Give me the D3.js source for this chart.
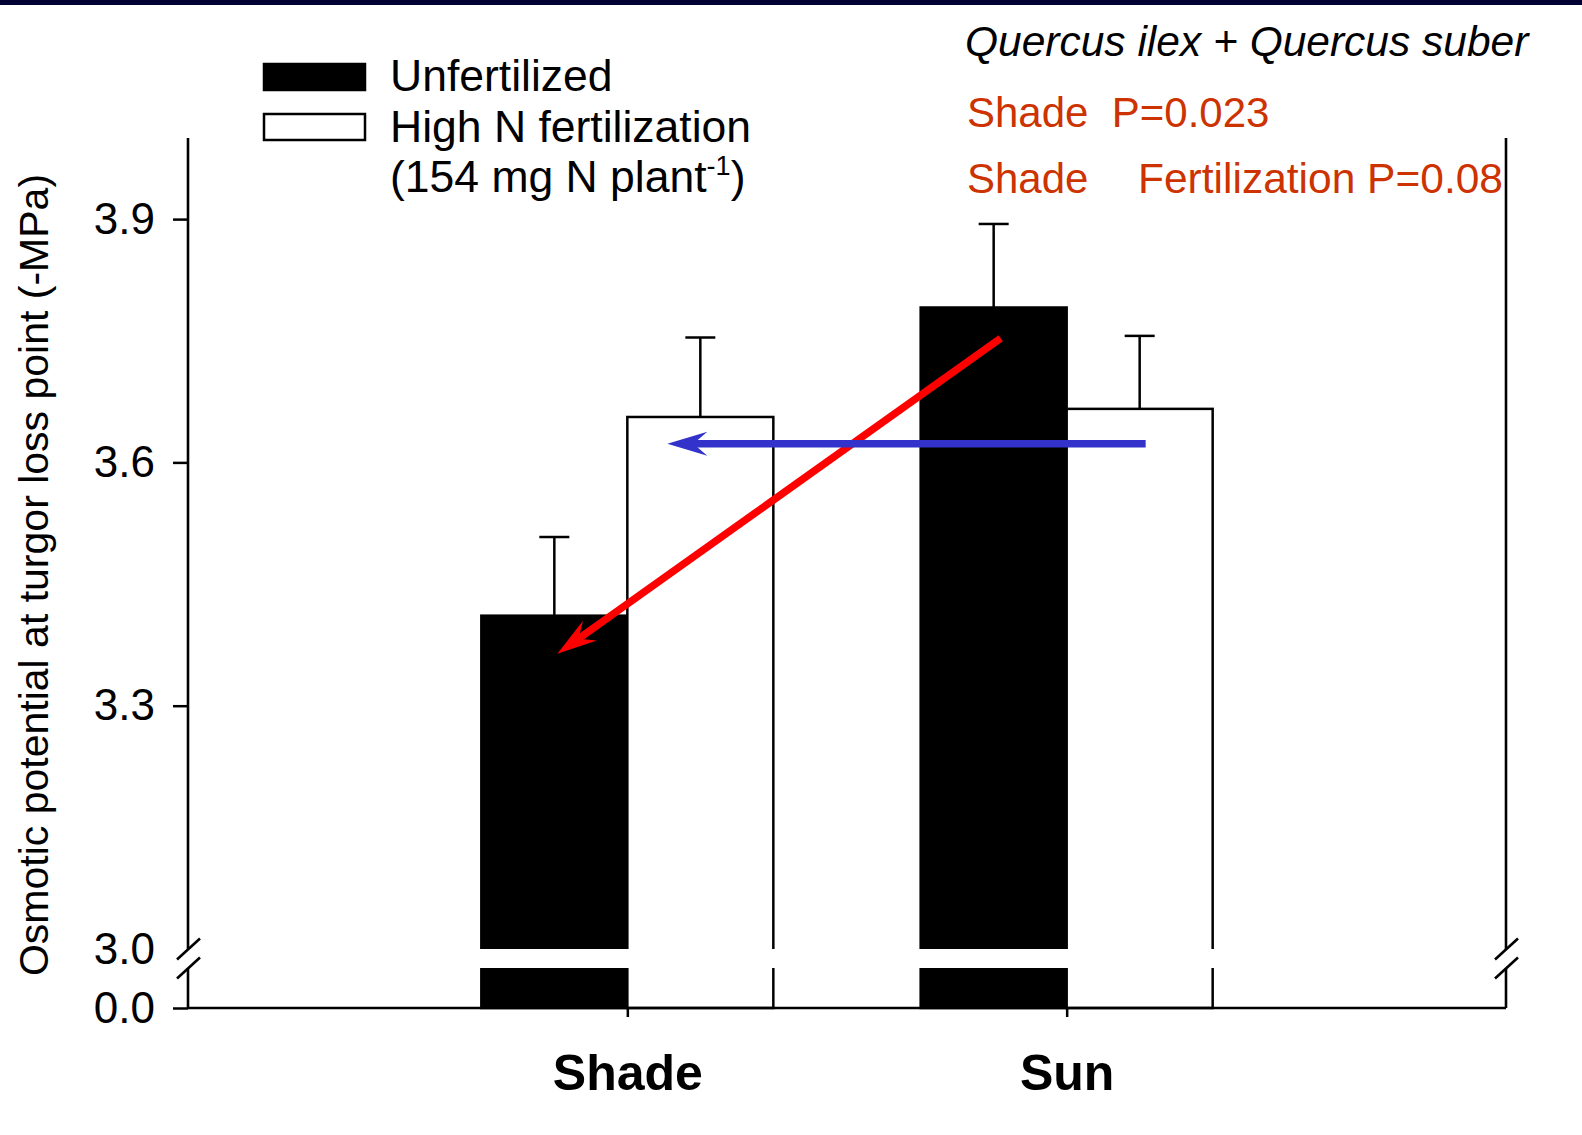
<!DOCTYPE html>
<html>
<head>
<meta charset="utf-8">
<script src="https://cdn.jsdelivr.net/npm/d3@7"></script>
<style>
  body { margin: 0; background: #fff; }
  svg { display: block; font-family: "Liberation Sans", Arial, sans-serif; }
</style>
</head>
<body>
<div id="my_dataviz"></div>
<script>

// data
var categories = ["Shade", "Sun"]
var treatments = ["Unfertilized", "High N fertilization"]
var unfertilized = [3.411, 3.791]
var fertilized = [3.656, 3.666]
var unfertilizedSE = [0.097, 0.103]
var fertilizedSE = [0.098, 0.090]
var yTicks = [3.0, 3.3, 3.6, 3.9]

// arrows: [category, treatment, value] for tail and head
var redArrowTail = ["Sun", "Unfertilized", 3.753]
var redArrowHead = ["Shade", "Unfertilized", 3.364]
var blueArrowTail = ["Sun", "High N fertilization", 3.623]
var blueArrowHead = ["Shade", "High N fertilization", 3.623]

var width = 1582
var height = 1135
var plotLeft = 188, plotRight = 1506, plotTop = 138
var breakTop = 949, breakBottom = 968, plotBottom = 1008

var svg = d3.select("#my_dataviz")
  .append("svg")
  .attr("width", width)
  .attr("height", height)

// dark strip across the top of the slide
svg.append("rect")
  .attr("x", 0).attr("y", 0)
  .attr("width", width).attr("height", 5)
  .attr("fill", "#000033")

// scales: upper segment 3.0 - 4.0, lower segment starts at 0
var x = d3.scalePoint().domain(categories).range([plotLeft, plotRight]).padding(1)
var xSub = d3.scaleBand().domain(treatments).range([-146, 146])
var y = d3.scaleLinear().domain([3.0, 4.0]).range([breakTop, plotTop])
var yLow = d3.scaleLinear().domain([0, 0.05]).range([plotBottom, breakBottom])

var rows = []
categories.forEach(function(c, i) {
  rows.push({cat: c, tr: treatments[0], value: unfertilized[i], se: unfertilizedSE[i]})
  rows.push({cat: c, tr: treatments[1], value: fertilized[i], se: fertilizedSE[i]})
})
var fill = {}
fill[treatments[0]] = "#000"
fill[treatments[1]] = "#fff"

// bars
svg.selectAll("rect.bar")
  .data(rows)
  .enter()
  .append("rect")
  .attr("class", "bar")
  .attr("x", function(d) { return x(d.cat) + xSub(d.tr) })
  .attr("width", xSub.bandwidth())
  .attr("y", function(d) { return y(d.value) })
  .attr("height", function(d) { return yLow(0) - y(d.value) })
  .attr("fill", function(d) { return fill[d.tr] })
  .attr("stroke", "#000")
  .attr("stroke-width", 2.5)

// error bars (upper only)
var eb = svg.selectAll("g.err")
  .data(rows)
  .enter()
  .append("g")
  .attr("stroke", "#000")
  .attr("stroke-width", 2.5)
eb.append("line")
  .attr("x1", function(d) { return x(d.cat) + xSub(d.tr) + xSub.bandwidth() / 2 })
  .attr("x2", function(d) { return x(d.cat) + xSub(d.tr) + xSub.bandwidth() / 2 })
  .attr("y1", function(d) { return y(d.value) })
  .attr("y2", function(d) { return y(d.value + d.se) })
eb.append("line")
  .attr("x1", function(d) { return x(d.cat) + xSub(d.tr) + xSub.bandwidth() / 2 - 15 })
  .attr("x2", function(d) { return x(d.cat) + xSub(d.tr) + xSub.bandwidth() / 2 + 15 })
  .attr("y1", function(d) { return y(d.value + d.se) })
  .attr("y2", function(d) { return y(d.value + d.se) })

// white band for the axis break through the bars
svg.selectAll("rect.gap")
  .data(categories)
  .enter()
  .append("rect")
  .attr("x", function(d) { return x(d) - 150 })
  .attr("width", 300)
  .attr("y", y(3.0))
  .attr("height", yLow(0.05) - y(3.0))
  .attr("fill", "#fff")

// axes frame with breaks
var frame = svg.append("g").attr("stroke", "#000").attr("stroke-width", 2.6).attr("fill", "none")
;[plotLeft, plotRight].forEach(function(xx) {
  frame.append("line").attr("x1", xx).attr("x2", xx).attr("y1", plotTop).attr("y2", y(3.0))
  frame.append("line").attr("x1", xx).attr("x2", xx).attr("y1", yLow(0.05)).attr("y2", yLow(0))
  ;[y(3.0), yLow(0.05)].forEach(function(yy) {
    frame.append("line")
      .attr("x1", xx - 11).attr("y1", yy + 10.5)
      .attr("x2", xx + 12).attr("y2", yy - 10.5)
  })
})
frame.append("line")
  .attr("x1", plotLeft).attr("x2", plotRight)
  .attr("y1", yLow(0)).attr("y2", yLow(0))

// left axis, upper segment
var yAxis = svg.append("g")
  .attr("transform", "translate(" + plotLeft + ",0)")
  .call(d3.axisLeft(y).tickValues(yTicks).tickSize(15).tickPadding(18).tickFormat(d3.format(".1f")))
yAxis.select(".domain").remove()
yAxis.selectAll(".tick line").attr("stroke-width", 2.5)
  .filter(function(d) { return d === 3.0 }).remove()
yAxis.selectAll(".tick text").style("font-size", "44px").attr("fill", "#000")

// left axis, lower segment
var yAxisLow = svg.append("g")
  .attr("transform", "translate(" + plotLeft + ",0)")
  .call(d3.axisLeft(yLow).tickValues([0]).tickSize(15).tickPadding(18).tickFormat(d3.format(".1f")))
yAxisLow.select(".domain").remove()
yAxisLow.selectAll(".tick line").attr("stroke-width", 2.5)
yAxisLow.selectAll(".tick text").style("font-size", "44px").attr("fill", "#000")

// bottom axis
var xAxis = svg.append("g")
  .attr("transform", "translate(0," + yLow(0) + ")")
  .call(d3.axisBottom(x).tickSize(9))
xAxis.select(".domain").remove()
xAxis.selectAll(".tick line").attr("stroke-width", 2.5)
xAxis.selectAll(".tick text")
  .attr("y", 82).attr("dy", null)
  .style("font-size", "50px").style("font-weight", "bold").attr("fill", "#000")

// y axis title
svg.append("text")
  .attr("transform", "translate(48,575) rotate(-90)")
  .attr("text-anchor", "middle")
  .style("font-size", "41px")
  .text("Osmotic potential at turgor loss point (-MPa)")

// arrows
function drawArrow(tail, head, color) {
  var x1 = x(tail[0]) + xSub(tail[1]) + xSub.bandwidth() / 2
  var x2 = x(head[0]) + xSub(head[1]) + xSub.bandwidth() / 2
  var y1 = y(tail[2]), y2 = y(head[2])
  return {x1: x1, y1: y1, x2: x2, y2: y2, color: color}
}
var arrows = [
  drawArrow(redArrowTail, redArrowHead, "#ff0000"),
  drawArrow(blueArrowTail, blueArrowHead, "#3333cc")
]
// small nudges so arrows start/end where the original author put them
arrows[0].x1 += 7; arrows[0].x2 += 3
arrows[1].x1 += 6; arrows[1].x2 -= 33

arrows.forEach(function(a) {
  var ang = Math.atan2(a.y2 - a.y1, a.x2 - a.x1) * 180 / Math.PI
  var len = Math.hypot(a.x2 - a.x1, a.y2 - a.y1)
  var g = svg.append("g")
    .attr("transform", "translate(" + a.x1 + "," + a.y1 + ") rotate(" + ang + ")")
  g.append("line")
    .attr("x1", 0).attr("y1", 0).attr("x2", len - 22).attr("y2", 0)
    .attr("stroke", a.color).attr("stroke-width", 7.5)
  g.append("path")
    .attr("d", "M" + len + ",0 L" + (len - 40) + ",-12 L" + (len - 26) + ",0 L" + (len - 40) + ",12 Z")
    .attr("fill", a.color)
})

// legend
var legend = svg.append("g")
legend.selectAll("rect")
  .data(treatments)
  .enter()
  .append("rect")
  .attr("x", 264)
  .attr("y", function(d, i) { return 64 + i * 50 })
  .attr("width", 101)
  .attr("height", 26)
  .attr("fill", function(d) { return fill[d] })
  .attr("stroke", "#000")
  .attr("stroke-width", 2.5)
legend.append("text").attr("x", 390).attr("y", 91).style("font-size", "44.5px").text("Unfertilized")
legend.append("text").attr("x", 390).attr("y", 142).style("font-size", "44.5px").text("High N fertilization")
var l3 = legend.append("text").attr("x", 390).attr("y", 192).style("font-size", "44.5px")
l3.append("tspan").text("(154 mg N plant")
l3.append("tspan").attr("dy", -17).style("font-size", "27px").text("-1")
l3.append("tspan").attr("dy", 17).text(")")

// species and statistics
svg.append("text")
  .attr("x", 965).attr("y", 56)
  .style("font-size", "42.5px").style("font-style", "italic")
  .text("Quercus ilex + Quercus suber")
svg.append("text")
  .attr("x", 967).attr("y", 127)
  .attr("fill", "#cc3300")
  .style("font-size", "42px")
  .style("white-space", "pre")
  .text("Shade  P=0.023")
svg.append("text")
  .attr("x", 967).attr("y", 193)
  .attr("fill", "#cc3300")
  .style("font-size", "42px")
  .text("Shade")
svg.append("text")
  .attr("x", 1138).attr("y", 193)
  .attr("fill", "#cc3300")
  .style("font-size", "42.5px")
  .text("Fertilization P=0.08")

</script>
</body>
</html>
